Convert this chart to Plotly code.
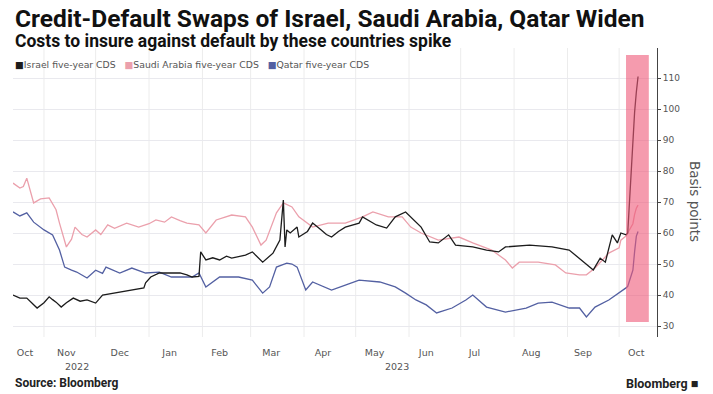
import plotly.graph_objects as go

# Five-year CDS spreads, basis points
israel_dates = [
    "2022-10-14", "2022-10-18", "2022-10-22", "2022-10-26", "2022-10-28", "2022-11-01",
    "2022-11-04", "2022-11-06", "2022-11-08", "2022-11-11", "2022-11-14", "2022-11-18",
    "2022-11-22", "2022-11-26", "2022-12-01", "2022-12-05", "2022-12-10", "2022-12-15",
    "2022-12-20", "2022-12-22", "2022-12-29", "2022-12-30", "2023-01-02", "2023-01-07",
    "2023-01-14", "2023-01-19", "2023-01-23", "2023-01-26", "2023-01-30", "2023-01-31",
    "2023-02-03", "2023-02-07", "2023-02-11", "2023-02-15", "2023-02-18", "2023-02-22",
    "2023-02-26", "2023-03-02", "2023-03-08", "2023-03-14", "2023-03-18", "2023-03-20",
    "2023-03-21", "2023-03-22", "2023-03-24", "2023-03-28", "2023-03-29", "2023-04-03",
    "2023-04-06", "2023-04-11", "2023-04-14", "2023-04-17", "2023-04-21", "2023-04-25",
    "2023-05-03", "2023-05-05", "2023-05-10", "2023-05-13", "2023-05-19", "2023-05-24",
    "2023-05-30", "2023-06-02", "2023-06-08", "2023-06-13", "2023-06-18", "2023-06-24",
    "2023-06-28", "2023-07-08", "2023-07-16", "2023-07-23", "2023-07-27", "2023-08-10",
    "2023-08-23", "2023-09-02", "2023-09-09", "2023-09-16", "2023-09-20", "2023-09-23",
    "2023-09-27", "2023-09-30", "2023-10-02", "2023-10-05", "2023-10-06", "2023-10-09",
    "2023-10-10", "2023-10-11", "2023-10-12",
]
israel_cds = [
    40.0, 39.0, 39.0, 37.0, 35.8, 37.5,
    39.4, 38.5, 37.7, 36.1, 37.5, 39.0,
    38.0, 38.4, 37.4, 40.0, 40.5, 41.0,
    41.4, 41.6, 42.3, 43.9, 45.8, 47.1,
    47.0, 47.1, 46.5, 45.8, 46.0, 53.9,
    51.3, 52.0, 51.3, 52.5, 51.9, 52.5,
    52.9, 53.9, 50.6, 53.5, 57.7, 70.6,
    55.5, 61.0, 60.0, 61.9, 58.7, 60.5,
    63.2, 61.0, 59.5, 58.7, 60.5, 61.9,
    63.2, 65.2, 63.5, 62.6, 61.6, 65.2,
    66.8, 65.2, 61.9, 57.1, 56.8, 59.4,
    56.1, 55.5, 54.5, 53.9, 55.5, 56.1,
    55.5, 54.5, 51.3, 48.1, 51.9, 50.6,
    59.4, 56.8, 60.0, 59.4, 60.0, 90.0,
    99.0, 105.5, 110.5,
]

saudi_dates = [
    "2022-10-14", "2022-10-18", "2022-10-20", "2022-10-22", "2022-10-26", "2022-10-30",
    "2022-11-04", "2022-11-08", "2022-11-10", "2022-11-14", "2022-11-17", "2022-11-19",
    "2022-11-23", "2022-11-26", "2022-12-01", "2022-12-04", "2022-12-08", "2022-12-12",
    "2022-12-19", "2022-12-26", "2023-01-01", "2023-01-05", "2023-01-10", "2023-01-14",
    "2023-01-19", "2023-01-23", "2023-01-30", "2023-02-03", "2023-02-09", "2023-02-18",
    "2023-02-26", "2023-03-02", "2023-03-07", "2023-03-10", "2023-03-16", "2023-03-20",
    "2023-03-25", "2023-03-29", "2023-04-06", "2023-04-15", "2023-04-25", "2023-05-05",
    "2023-05-11", "2023-05-20", "2023-05-28", "2023-06-02", "2023-06-08", "2023-06-18",
    "2023-06-30", "2023-07-08", "2023-07-19", "2023-07-27", "2023-07-31", "2023-08-04",
    "2023-08-15", "2023-08-25", "2023-08-31", "2023-09-08", "2023-09-12", "2023-09-17",
    "2023-09-25", "2023-10-01", "2023-10-02", "2023-10-05", "2023-10-06", "2023-10-09",
    "2023-10-10", "2023-10-11", "2023-10-12",
]
saudi_cds = [
    76.1, 74.5, 75.0, 77.7, 69.7, 71.0,
    71.3, 67.5, 63.2, 55.5, 58.0, 61.9,
    59.5, 58.7, 61.0, 59.5, 62.6, 61.5,
    63.2, 61.9, 63.0, 64.2, 63.5, 65.2,
    64.0, 63.2, 62.6, 60.0, 64.2, 65.8,
    65.2, 61.9, 56.1, 57.7, 66.5, 69.7,
    68.4, 65.2, 61.9, 63.2, 63.2, 65.2,
    66.8, 65.2, 65.2, 61.9, 60.0, 57.7,
    58.7, 56.8, 54.5, 51.3, 48.7, 50.6,
    50.6, 49.7, 47.1, 46.5, 46.5, 48.7,
    53.5, 55.2, 57.7, 59.0, 60.0, 63.0,
    66.0, 68.0, 69.0,
]

qatar_dates = [
    "2022-10-14", "2022-10-18", "2022-10-22", "2022-10-26", "2022-11-01", "2022-11-06",
    "2022-11-10", "2022-11-13", "2022-11-17", "2022-11-20", "2022-11-26", "2022-12-01",
    "2022-12-05", "2022-12-07", "2022-12-15", "2022-12-22", "2022-12-30", "2023-01-07",
    "2023-01-14", "2023-01-26", "2023-01-30", "2023-02-03", "2023-02-11", "2023-02-22",
    "2023-03-02", "2023-03-08", "2023-03-12", "2023-03-16", "2023-03-22", "2023-03-25",
    "2023-03-28", "2023-04-02", "2023-04-06", "2023-04-17", "2023-04-25", "2023-05-03",
    "2023-05-15", "2023-05-24", "2023-05-30", "2023-06-05", "2023-06-11", "2023-06-17",
    "2023-06-26", "2023-07-04", "2023-07-08", "2023-07-16", "2023-07-27", "2023-08-08",
    "2023-08-15", "2023-08-23", "2023-09-02", "2023-09-08", "2023-09-12", "2023-09-17",
    "2023-09-25", "2023-10-01", "2023-10-05", "2023-10-06", "2023-10-09", "2023-10-10",
    "2023-10-11", "2023-10-12",
]
qatar_cds = [
    66.8, 65.5, 66.5, 63.5, 61.0, 59.4,
    54.5, 49.0, 48.0, 47.4, 45.5, 48.0,
    47.0, 49.0, 47.1, 48.7, 47.1, 47.4,
    45.8, 45.8, 47.1, 42.6, 45.8, 45.8,
    44.8, 40.6, 42.6, 49.0, 50.3, 50.0,
    49.0, 41.6, 44.2, 41.6, 43.2, 44.8,
    44.2, 42.6, 40.6, 38.4, 36.8, 34.2,
    35.8, 38.4, 40.0, 36.1, 34.5, 35.8,
    37.4, 37.7, 35.8, 35.8, 32.9, 36.1,
    38.4, 40.6, 42.3, 42.8, 48.0, 54.0,
    59.0, 60.5,
]

series_names = ["Israel five-year CDS", "Saudi Arabia five-year CDS", "Qatar five-year CDS"]
series_colors = ["#1c1c1c", "#eba0ac", "#5360a2"]

month_ticks = ["2022-10-21", "2022-11-14", "2022-12-15", "2023-01-13", "2023-02-11",
               "2023-03-13", "2023-04-12", "2023-05-12", "2023-06-11", "2023-07-09",
               "2023-08-11", "2023-09-10", "2023-10-11"]
month_labels = ["Oct", "Nov", "Dec", "Jan", "Feb", "Mar", "Apr", "May", "Jun", "Jul",
                "Aug", "Sep", "Oct"]
year_ticks = ["2022-11-20", "2023-05-25"]
year_labels = ["2022", "2023"]
month_starts = ["2022-11-01", "2022-12-01", "2023-01-01", "2023-02-01", "2023-03-01",
                "2023-04-01", "2023-05-01", "2023-06-01", "2023-07-01", "2023-08-01",
                "2023-09-01", "2023-10-01"]
y_ticks = [30, 40, 50, 60, 70, 80, 90, 100, 110]

AXIS_FONT = "DejaVu Sans"
HEAD_FONT = "Roboto"

fig = go.Figure()

# vertical month gridlines
for d in month_starts:
    fig.add_shape(type="line", xref="x", yref="paper", x0=d, x1=d, y0=0, y1=1,
                  line=dict(color="#ececec", width=1), layer="below")

for dates, vals, name, color in zip(
        [israel_dates, saudi_dates, qatar_dates][::-1],
        [israel_cds, saudi_cds, qatar_cds][::-1],
        series_names[::-1], series_colors[::-1]):
    fig.add_trace(go.Scatter(x=dates, y=vals, mode="lines", name=name,
                             line=dict(color=color, width=1.3), showlegend=False))

# highlighted period after the October attack
fig.add_shape(type="rect", xref="x", yref="y",
              x0="2023-10-05", x1="2023-10-18 06:00", y0=31.3, y1=117.4,
              fillcolor="#ee5878", opacity=0.6, line=dict(width=0), layer="above")

legend_html = "&nbsp;&nbsp;&nbsp;".join(
    f"<span style='color:{c}'>■</span>{n}" for n, c in zip(series_names, series_colors))
fig.add_annotation(text=legend_html, xref="paper", yref="paper", x=0.0, y=1.0,
                   yshift=-16, xanchor="left", yanchor="middle", showarrow=False,
                   font=dict(family=AXIS_FONT, size=9.3, color="#555"))

for d, lab in zip(year_ticks, year_labels):
    fig.add_annotation(text=lab, xref="x", yref="paper", x=d, y=0, yshift=-29,
                       showarrow=False, yanchor="middle",
                       font=dict(family=AXIS_FONT, size=9.5, color="#555"))

fig.add_annotation(text="Basis points", xref="paper", yref="paper", x=1.059, y=0.467,
                   textangle=90, showarrow=False, xanchor="center", yanchor="middle",
                   font=dict(family=AXIS_FONT, size=13.5, color="#555"))

fig.add_annotation(text="<b>Credit-Default Swaps of Israel, Saudi Arabia, Qatar Widen</b>",
                   xref="paper", yref="paper", x=0.0, y=1.0, yshift=30,
                   xanchor="left", yanchor="middle", showarrow=False,
                   font=dict(family=HEAD_FONT, size=24.5, color="#111"))
fig.add_annotation(text="<b>Costs to insure against default by these countries spike</b>",
                   xref="paper", yref="paper", x=0.0, y=1.0, yshift=7,
                   xanchor="left", yanchor="middle", showarrow=False,
                   font=dict(family=HEAD_FONT, size=17.5, color="#111"))
fig.add_annotation(text="<b>Source: Bloomberg</b>", xref="paper", yref="paper",
                   x=0.0, y=0, yshift=-46, xanchor="left", yanchor="middle",
                   showarrow=False, font=dict(family=HEAD_FONT, size=12, color="#222"))
fig.add_annotation(text="<b>Bloomberg ■</b>", xref="paper", yref="paper",
                   x=1.066, y=0, yshift=-46, xanchor="right", yanchor="middle",
                   showarrow=False, font=dict(family=HEAD_FONT, size=12.5, color="#222"))

fig.update_layout(
    width=713, height=394,
    margin=dict(l=13, r=56, t=48, b=57),
    paper_bgcolor="white", plot_bgcolor="white",
    font=dict(family=AXIS_FONT, color="#555"),
    xaxis=dict(type="date", range=["2022-10-14", "2023-10-23"],
               tickvals=month_ticks, ticktext=month_labels, showgrid=False,
               ticks="", ticklabelstandoff=8, tickfont=dict(size=9.5, color="#555"),
               zeroline=False, showline=False),
    yaxis=dict(side="right", range=[26.45, 119.68], tickvals=y_ticks,
               showgrid=True, gridcolor="#e9e9ee", gridwidth=1, zeroline=False,
               showline=True, linecolor="#444", linewidth=1,
               ticks="outside", ticklen=3, tickcolor="#444",
               tickfont=dict(size=9, color="#555")),
)

fig.write_html("out.html")
